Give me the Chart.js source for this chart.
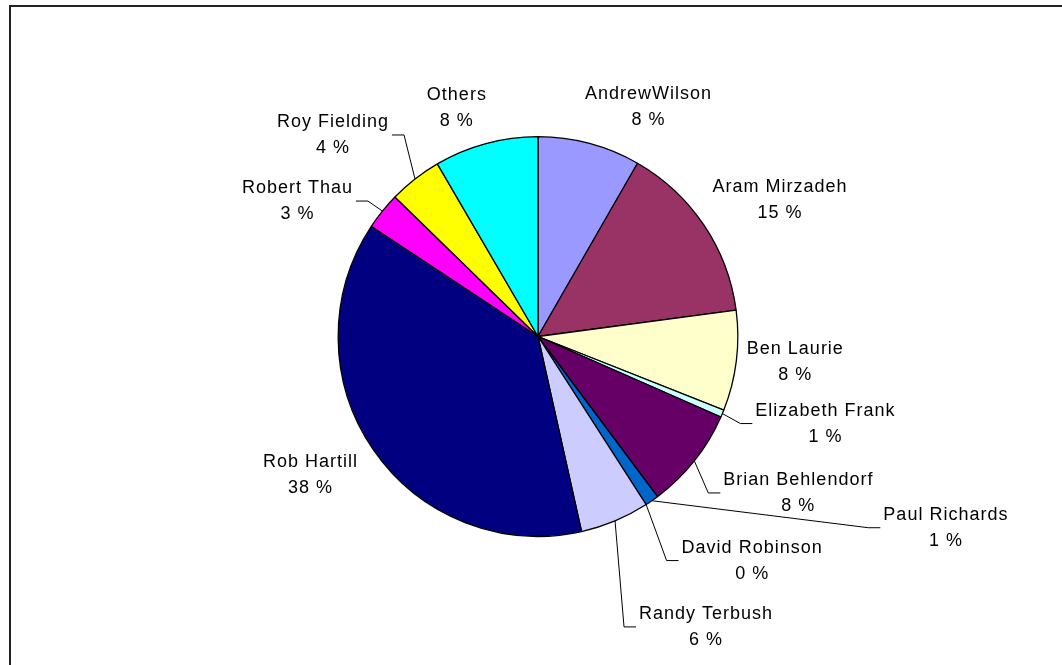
<!DOCTYPE html>
<html>
<head>
<meta charset="utf-8">
<script src="https://cdn.jsdelivr.net/npm/chart.js@4/dist/chart.umd.min.js"></script>
<style>
  html, body { margin: 0; padding: 0; background: #fff; overflow: hidden; }
  .frame {
    position: absolute; left: 9px; top: 5px; width: 1100px; height: 700px;
    border-top: 2px solid #222; border-left: 2px solid #222;
  }
  #pie { position: absolute; left: 0; top: 0; }
</style>
</head>
<body>
<div class="frame"></div>
<canvas id="pie" width="1062" height="665"></canvas>
<script>
const names = [
  "AndrewWilson", "Aram Mirzadeh", "Ben Laurie", "Elizabeth Frank",
  "Brian Behlendorf", "Paul Richards", "David Robinson", "Randy Terbush",
  "Rob Hartill", "Robert Thau", "Roy Fielding", "Others"
];
const shares = [8.3, 14.6, 8.1, 0.6, 8.2, 1.1, 0, 5.6, 37.8, 3.0, 4.3, 8.4];
const colors = [
  "#9999FF", "#993366", "#FFFFCC", "#CCFFFF", "#660066", "#0066CC",
  "#FF8080", "#CCCCFF", "#000080", "#FF00FF", "#FFFF00", "#00FFFF"
];

// where each label block sits, measured from the slice's outer midpoint
const labelShift = [
  [59, -36], [76, -25], [59, 1], [103, 10], [104, 32], [294, 27],
  [106, 56], [91, 106], [-63, 25], [-85, -10], [-82, -44], [-29, -36]
];
const hasLeader = [false, false, false, true, true, true, true, true, false, true, true, false];

const total = shares.reduce((a, b) => a + b, 0);

const pieLabels = {
  id: "pieLabels",
  afterDatasetsDraw(chart) {
    const ctx = chart.ctx;
    const arcs = chart.getDatasetMeta(0).data;
    ctx.save();
    ctx.font = "18px 'Liberation Sans', Arial, sans-serif";
    ctx.letterSpacing = "1px";
    ctx.fillStyle = "#000";
    ctx.strokeStyle = "#000";
    ctx.lineWidth = 1;
    ctx.textAlign = "center";
    ctx.textBaseline = "middle";

    arcs.forEach((arc, i) => {
      const p = arc.getProps(["x", "y", "startAngle", "endAngle", "outerRadius"], true);
      const mid = (p.startAngle + p.endAngle) / 2;
      const ax = p.x + Math.cos(mid) * p.outerRadius;
      const ay = p.y + Math.sin(mid) * p.outerRadius;
      const cx = ax + labelShift[i][0];
      const cy = ay + labelShift[i][1];

      const pct = Math.round(shares[i] / total * 100) + " %";
      const w = Math.max(ctx.measureText(names[i]).width, ctx.measureText(pct).width);

      if (hasLeader[i]) {
        const dir = cx > ax ? -1 : 1;
        const edge = cx + dir * (w / 2 + 3);
        ctx.beginPath();
        ctx.moveTo(ax, ay);
        ctx.lineTo(edge + dir * 12, cy);
        ctx.lineTo(edge, cy);
        ctx.stroke();
      }

      ctx.fillText(names[i], cx, cy - 13);
      ctx.fillText(pct, cx, cy + 13);
    });
    ctx.restore();
  }
};

new Chart(document.getElementById("pie"), {
  type: "pie",
  data: {
    labels: names,
    datasets: [{
      data: shares,
      backgroundColor: colors,
      borderColor: "#000",
      borderWidth: 1.3
    }]
  },
  options: {
    responsive: false,
    animation: false,
    layout: { padding: { top: 136, bottom: 128, left: 138, right: 124 } },
    plugins: {
      legend: { display: false },
      tooltip: { enabled: false }
    }
  },
  plugins: [pieLabels]
});
</script>
</body>
</html>
